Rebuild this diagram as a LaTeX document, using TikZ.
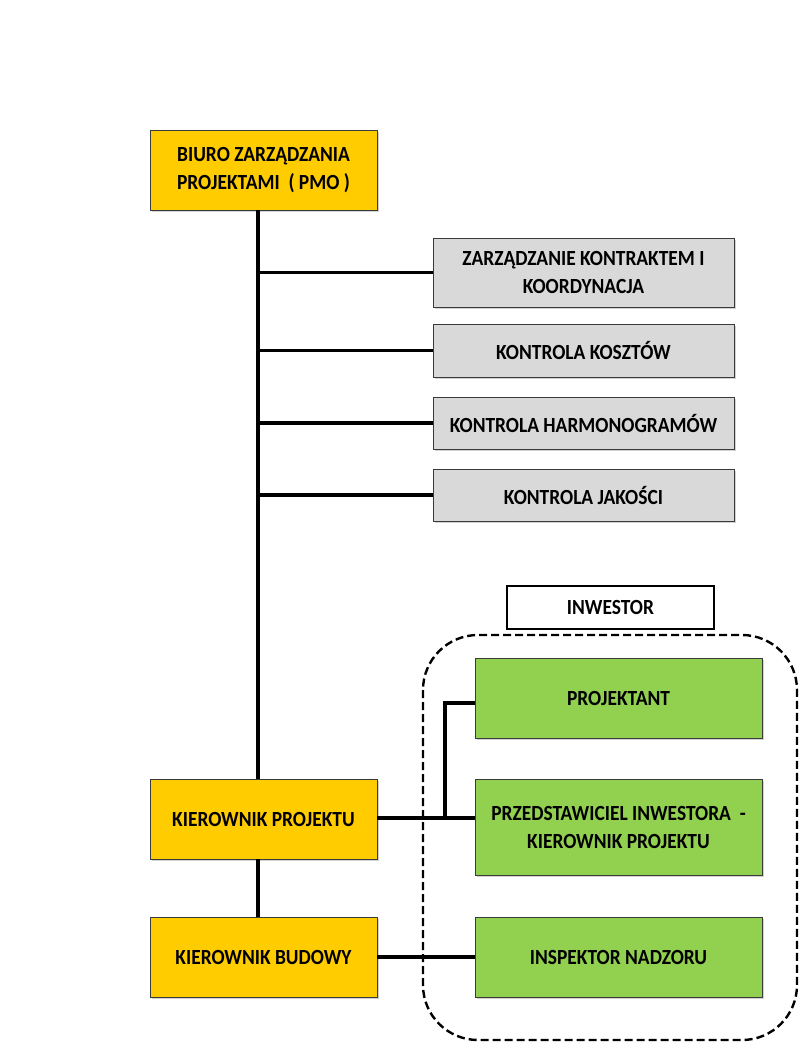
\documentclass[tikz,border=0pt]{standalone}
\usepackage{fontspec}
\setmainfont{Carlito}
\newfontfamily\boxfont[FakeStretch=0.9]{Carlito}
\usepackage{xcolor}
\usetikzlibrary{shadows, calc}
\definecolor{pmoyellow}{HTML}{FFCC00}
\definecolor{ctrlgray}{HTML}{D9D9D9}
\definecolor{invgreen}{HTML}{92D050}
\definecolor{edge}{HTML}{3A3A3A}

\tikzset{
    orgbox/.style={draw=edge, line width=0.9pt, inner sep=0pt, align=center,
        font=\boxfont\bfseries\fontsize{21.6}{28}\selectfont,
        drop shadow={shadow xshift=1.5pt, shadow yshift=-1.5pt, fill=black!35}},
    pmobox/.style={orgbox, fill=pmoyellow, minimum width=227pt, minimum height=80pt},
    ctrlbox/.style={orgbox, fill=ctrlgray, minimum width=301pt},
    greenbox/.style={orgbox, fill=invgreen, minimum width=287pt},
    link/.style={line width=3.4pt, black}
}

\begin{document}
\begin{tikzpicture}[x=1pt, y={(0pt,-1pt)}]
        \useasboundingbox (0,0) rectangle (800,1044);

        % left column
        \node[pmobox] (pmo) at (263.5,170) {BIURO ZARZĄDZANIA\\PROJEKTAMI \ ( PMO )};
        \node[pmobox] (kp) at (263.5,819) {KIEROWNIK PROJEKTU};
        \node[pmobox] (kb) at (263.5,957) {KIEROWNIK BUDOWY};

        % control boxes
        \node[ctrlbox, minimum height=69pt] (zk) at (583.5,272.5) {ZARZĄDZANIE KONTRAKTEM I\\KOORDYNACJA};
        \node[ctrlbox, minimum height=53pt] (kk) at (583.5,350.5) {KONTROLA KOSZTÓW};
        \node[ctrlbox, minimum height=52pt] (kh) at (583.5,423) {KONTROLA HARMONOGRAMÓW};
        \node[ctrlbox, minimum height=52pt] (kj) at (583.5,495) {KONTROLA JAKOŚCI};

        % investor group
        \draw[line width=2.4pt, dash pattern=on 8pt off 4pt, rounded corners=55pt]
            (423,635) rectangle (797,1040);
        \node[draw=black, line width=2.2pt, fill=white, minimum width=207pt, minimum height=43pt,
              font=\boxfont\bfseries\fontsize{21.6}{24}\selectfont] (inw) at (610.5,607.5) {INWESTOR};
        \node[greenbox, minimum height=80pt] (proj) at (618.5,698) {PROJEKTANT};
        \node[greenbox, minimum height=96pt] (prz) at (618.5,827) {PRZEDSTAWICIEL INWESTORA \ -\\KIEROWNIK PROJEKTU};
        \node[greenbox, minimum height=80pt] (insp) at (618.5,957) {INSPEKTOR NADZORU};

        % connectors
        \coordinate (trunk) at (258,210);
        \coordinate (fork) at (445,818);
        \draw[link] (trunk) -- (trunk |- kp.north);
        \foreach \n in {zk,kk,kh,kj}
            \draw[link] (trunk |- \n.west) -- (\n.west);
        \draw[link] (trunk |- kp.south) -- (trunk |- kb.north);
        \draw[link] (kp.east |- fork) -- (fork -| prz.west);
        \draw[link] (fork) |- (445,703) -- (proj.west |- 0,703);
        \draw[link] (kb.east) -- (insp.west);
    \end{tikzpicture}
\end{document}
